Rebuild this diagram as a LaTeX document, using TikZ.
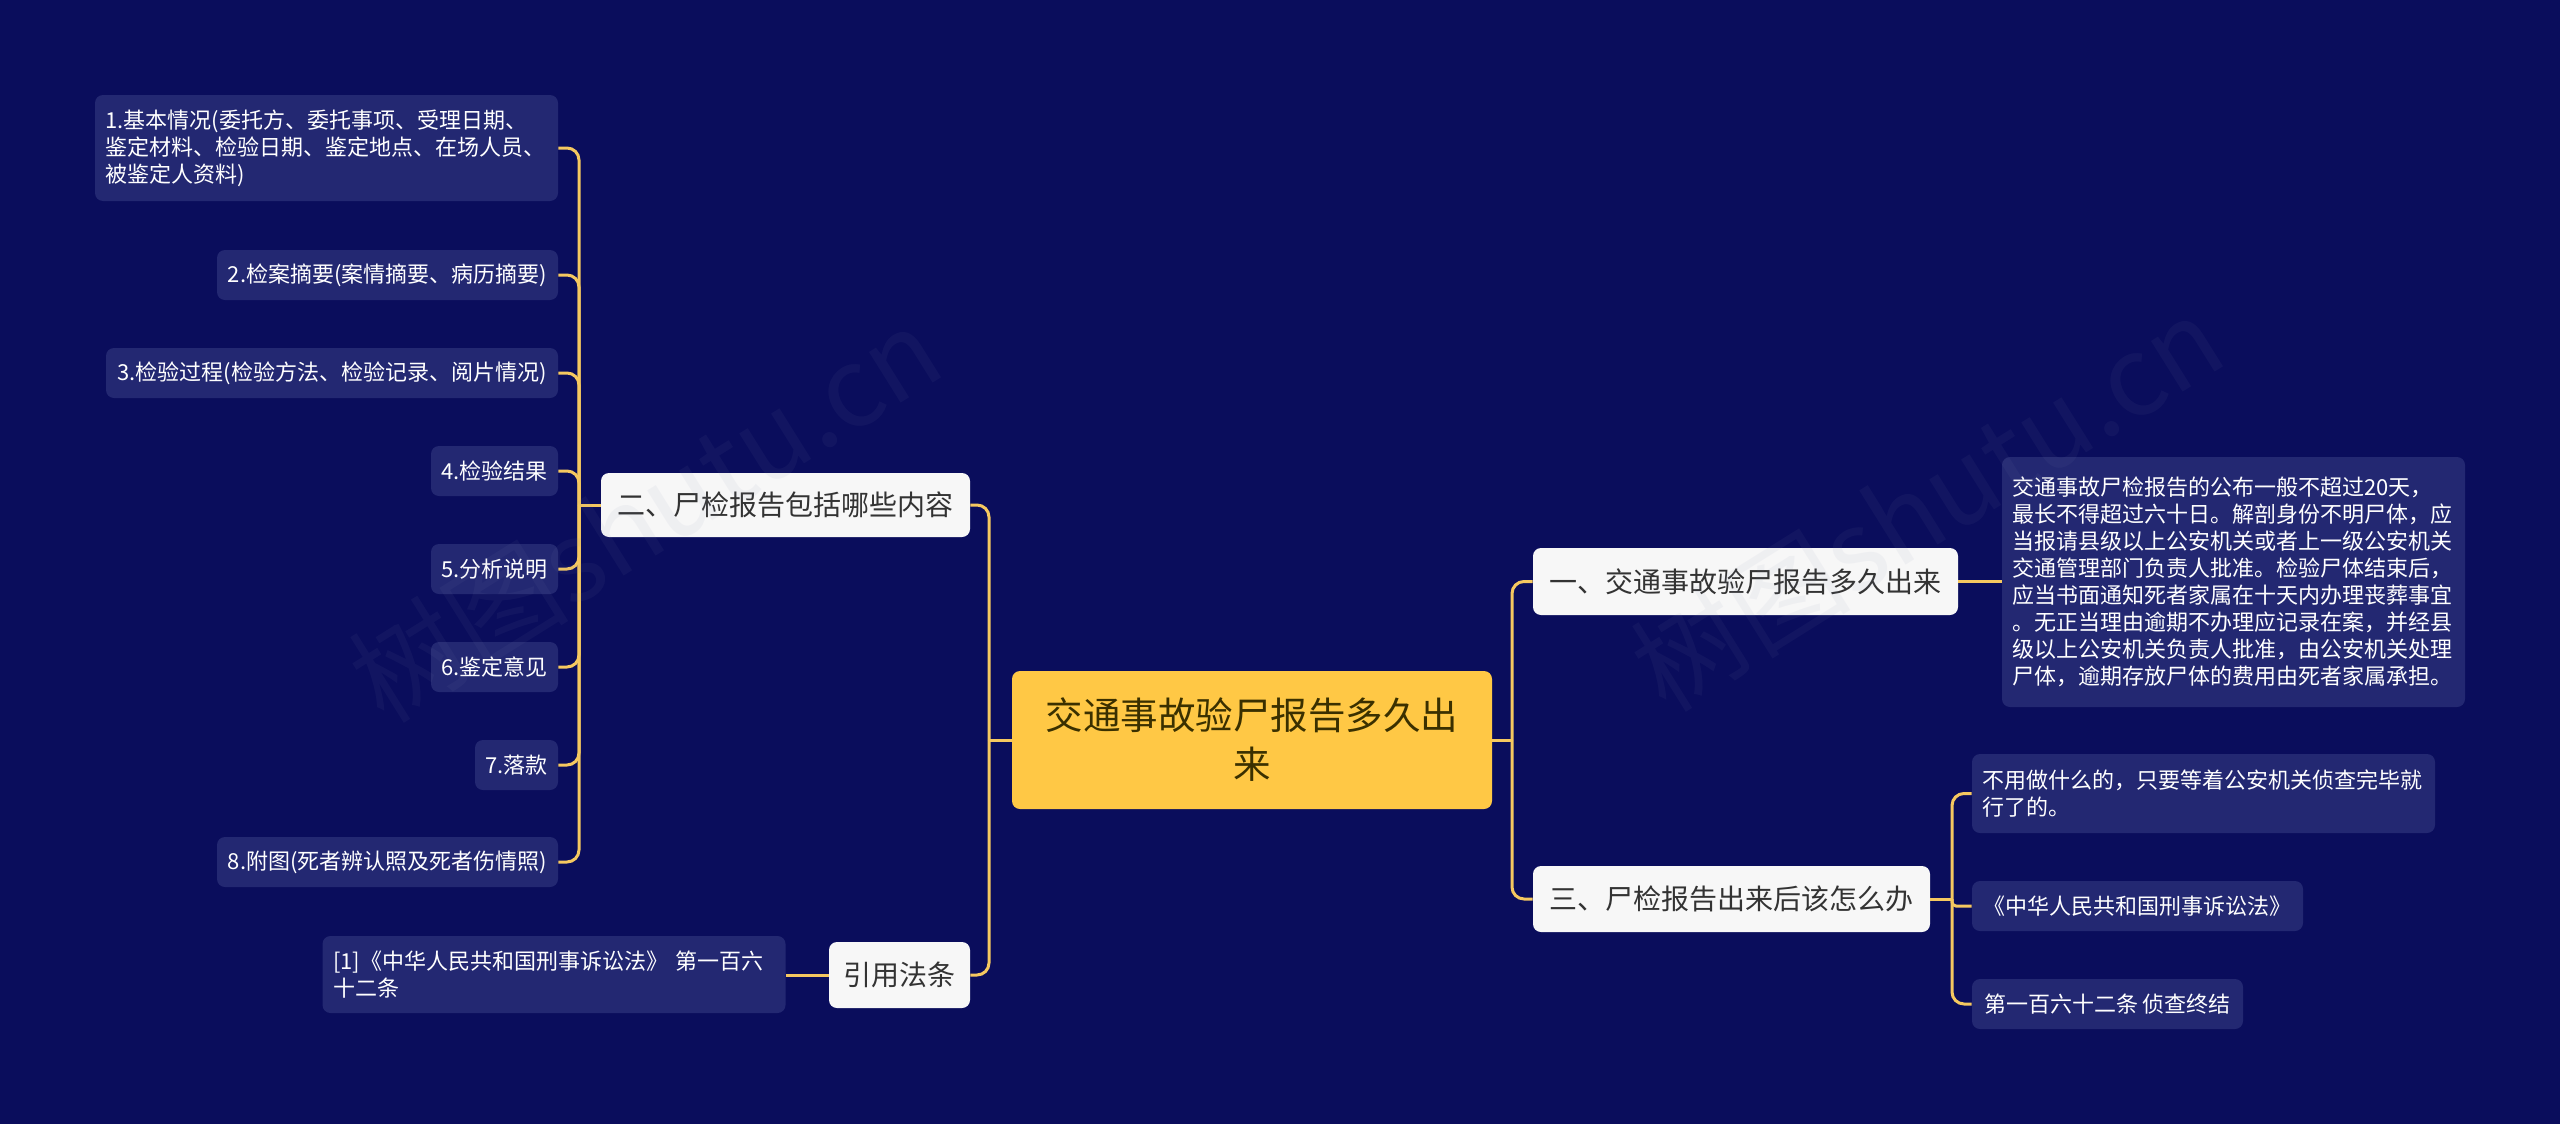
\documentclass[tikz,border=0pt]{standalone}
\usepackage{fontspec}
\setmainfont{Noto Sans CJK SC}
\usetikzlibrary{calc}
\definecolor{bg}{HTML}{0A0D5C}
\definecolor{leafbg}{HTML}{232872}
\definecolor{rootbg}{HTML}{FFC845}
\definecolor{roottext}{HTML}{3A3000}
\definecolor{branchbg}{HTML}{F7F7F7}
\definecolor{branchtext}{HTML}{333333}
\definecolor{linecol}{HTML}{F5C860}
\definecolor{wmcol}{HTML}{8088B0}
\begin{document}
\begin{tikzpicture}[x=0.5pt,y=-0.5pt,
  box/.style={rounded corners=4pt, inner sep=0pt, align=center},
  leaf/.style={box, fill=leafbg, text=white, font=\fontsize{11pt}{13.5pt}\selectfont, minimum height=25pt},
  leafpar/.style={leaf, align=left, text width=221pt, inner xsep=5.25pt},
  branch/.style={box, fill=branchbg, text=branchtext, font=\fontsize{14pt}{17pt}\selectfont, minimum height=33pt},
  rootbox/.style={box, fill=rootbg, text=roottext, font=\fontsize{18.75pt}{24.5pt}\selectfont},
  conn/.style={draw=linecol, line width=1.5pt, rounded corners=6pt},
  wm/.style={text=wmcol, opacity=0.07, font=\fontsize{55pt}{55pt}\selectfont, rotate=32}
]
\useasboundingbox (0,0) rectangle (2560,1124);
\fill[bg] (0,0) rectangle (2560,1124);

% root
\node[rootbox, minimum width=240pt, minimum height=69pt] (root) at (1252,740) {交通事故验尸报告多久出\\来};

% branches
\node[branch, minimum width=184.5pt, minimum height=32pt] (b2) at (785.5,505) {二、尸检报告包括哪些内容};
\node[branch, minimum width=70.5pt] (yy) at (899.5,975) {引用法条};
\node[branch, minimum width=212.5pt, minimum height=33.5pt] (b1) at (1745.5,581.5) {一、交通事故验尸报告多久出来};
\node[branch, minimum width=198.5pt] (b3) at (1731.5,899) {三、尸检报告出来后该怎么办};

% left leaves
\node[leafpar, minimum height=53pt] (l1) at (326.5,148) {1.基本情况(委托方、委托事项、受理日期、\\鉴定材料、检验日期、鉴定地点、在场人员、\\被鉴定人资料)};
\node[leaf, minimum width=170.5pt] (l2) at (387.5,275) {2.检案摘要(案情摘要、病历摘要)};
\node[leaf, minimum width=226pt] (l3) at (332,373) {3.检验过程(检验方法、检验记录、阅片情况)};
\node[leaf, minimum width=63.5pt] (l4) at (494.5,471) {4.检验结果};
\node[leaf, minimum width=63.5pt] (l5) at (494.5,569) {5.分析说明};
\node[leaf, minimum width=63.5pt] (l6) at (494.5,667) {6.鉴定意见};
\node[leaf, minimum width=41.5pt] (l7) at (516.5,765) {7.落款};
\node[leaf, minimum width=170.5pt] (l8) at (387.5,862) {8.附图(死者辨认照及死者伤情照)};

% citation leaf
\node[leafpar, minimum height=38.5pt] (c1) at (554,974.5) {[1]《中华人民共和国刑事诉讼法》 第一百六\\十二条};

% right leaves
\node[leafpar, minimum height=125pt] (p) at (2233.5,582) {交通事故尸检报告的公布一般不超过20天，\\最长不得超过六十日。解剖身份不明尸体，应\\当报请县级以上公安机关或者上一级公安机关\\交通管理部门负责人批准。检验尸体结束后，\\应当书面通知死者家属在十天内办理丧葬事宜\\。无正当理由逾期不办理应记录在案，并经县\\级以上公安机关负责人批准，由公安机关处理\\尸体，逾期存放尸体的费用由死者家属承担。};
\node[leafpar, minimum height=39.5pt] (r1) at (2203.5,793.5) {不用做什么的，只要等着公安机关侦查完毕就\\行了的。};
\node[leaf, minimum width=165.5pt] (r2) at (2137.5,906) {《中华人民共和国刑事诉讼法》};
\node[leaf, minimum width=135.5pt] (r3) at (2107.5,1004) {第一百六十二条 侦查终结};

% junctions
\coordinate (jl) at (579,505);
\coordinate (jr) at (989,740);
\coordinate (jR) at (1512,740);
\coordinate (j3) at (1952,899);

% connectors: left subtree
\foreach \n in {l1,l2,l3,l4,l5,l6,l7,l8} {
  \draw[conn] (\n.east) -| (jl);
}
\draw[conn] (jl) -- (b2.west);
% root left
\draw[conn] (root.west) -- (jr);
\draw[conn] (jr) |- (b2.east);
\draw[conn] (jr) |- (yy.east);
\draw[conn] (yy.west) -- (yy.west -| c1.east);
% root right
\draw[conn] (root.east) -- (jR);
\draw[conn] (jR) |- (b1.west);
\draw[conn] (jR) |- (b3.west);
\draw[conn] (b1.east) -- (b1.east -| p.west);
% branch three
\draw[conn] (b3.east) -- (j3);
\draw[conn] (j3) |- (r1.west);
\draw[conn, rounded corners=2pt] (j3) |- (r2.west);
\draw[conn] (j3) |- (r3.west);

% watermarks
\node[wm] (wm1) at (645,514) {树图shutu.cn};
\node[wm] (wm2) at (1927,503) {树图shutu.cn};
\end{tikzpicture}
\end{document}
